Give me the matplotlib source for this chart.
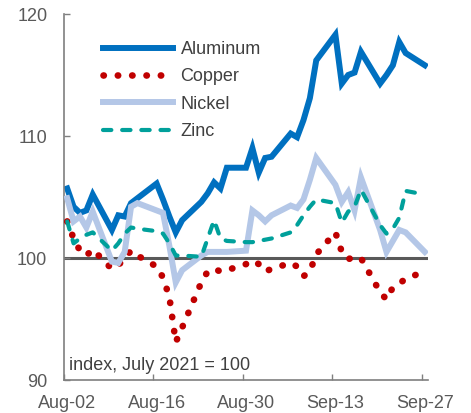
import numpy as np
import pandas as pd
import matplotlib
matplotlib.use("Agg")
import matplotlib.pyplot as plt
import matplotlib.dates as mdates

plt.rcParams['font.family'] = ['Liberation Sans', 'DejaVu Sans']

# business days, index July 2021 = 100
dates = pd.bdate_range("2021-08-02", "2021-09-27")

aluminum = [105.7, 104.2, 103.7, 103.9, 105.2, 102.3, 103.5, 103.4, 104.5, 104.9,
            106.1, 104.8, 103.4, 102.1, 103.1, 104.6, 105.3, 106.2, 105.7, 107.4,
            107.4, 109.0,
            107.0, 108.2, 108.3, 110.2, 109.9, 111.3, 113.1, 116.2, 118.3, 114.3,
            115.0, 115.2, 116.9, 114.3, 115.0, 115.8, 117.7, 116.8, 115.8]
copper = [103.0, 101.6, 100.6, 100.2, 100.7, 99.1, 99.4, 100.0, 100.6, 100.2,
          99.3, 98.4, 96.8, 93.1, 94.3, 98.0, 98.9, 99.1, 98.9, 99.0,
          99.5, 99.8,
          99.5, 98.9, 99.1, 99.6, 99.3, 98.5, 98.9, 100.3, 102.1, 100.5,
          99.9, 100.1, 100.0, 97.2, 96.6, 97.6, 97.9, 98.3, 98.9]
nickel = [104.9, 103.0, 103.4, 102.5, 103.8, 99.7, 99.6, 100.5, 104.2, 104.5,
          103.9, 103.7, 101.0, 98.0, 99.0, 100.2, 100.5, 100.5, 100.5, 100.5,
          100.6, 103.9,
          103.5, 103.0, 103.5, 104.3, 104.1, 104.8, 106.4, 108.2, 106.0, 104.6,
          105.4, 103.9, 106.6, 102.3, 100.5, 101.4, 102.3, 102.1, 100.5]
zinc = [103.0, 101.2, 101.6, 101.9, 102.1, 100.6, 101.2, 102.0, 102.5, 102.4,
        102.2, 102.0, 101.2, 100.2, 100.2, 100.1, 101.6, 103.1, 101.6, 101.4,
        101.3, 101.3,
        101.4, 101.5, 101.6, 102.1, 102.7, 103.5, 104.2, 104.8, 104.5, 102.9,
        103.8, 104.2, 105.6, 102.7, 102.0, 102.4, 103.3, 105.5, 105.2]

tick_dates = ["2021-08-02", "2021-08-16", "2021-08-30", "2021-09-13", "2021-09-27"]

fig = plt.figure(figsize=(4.71, 4.13), dpi=100)
ax = fig.add_axes([0.1359, 0.0799, 0.7728, 0.8862])

# points sit in the middle of each day slot (Excel date axis)
x = dates + pd.Timedelta(hours=12)

ax.axhline(100, color='#595959', lw=2.2, zorder=1.5)
ax.plot(x, aluminum, color='#0070c0', lw=4.3, label='Aluminum',
        solid_joinstyle='miter', zorder=2)
ax.plot(x, copper, color='#c00000', lw=4.8, linestyle=(0, (0.05, 2.1)),
        dash_capstyle='round', label='Copper', zorder=3)
ax.plot(x, nickel, color='#b4c7e7', lw=4.3, label='Nickel',
        solid_joinstyle='miter', zorder=4)
ax.plot(x, zinc, color='#00a09b', lw=3.0, linestyle=(0, (2.0, 2.6)),
        dash_capstyle='round', label='Zinc', zorder=5)

ax.set_ylim(90, 120)
ax.set_yticks([90, 100, 110, 120])
ax.set_xlim(pd.Timestamp("2021-08-02"), pd.Timestamp("2021-09-28"))

tick_pos = [mdates.date2num(pd.Timestamp(d)) for d in tick_dates]
ax.set_xticks(tick_pos)
ax.set_xticklabels([])
ax.set_xticks([p + 0.5 for p in tick_pos], minor=True)
ax.set_xticklabels([pd.Timestamp(d).strftime('%b-%d') for d in tick_dates], minor=True)

ax.tick_params(axis='x', which='major', direction='in', length=4.5, width=1, color='#7f7f7f')
ax.tick_params(axis='x', which='minor', length=0, pad=10.5, labelsize=13, labelcolor='#595959')
ax.tick_params(axis='y', direction='in', length=4.5, width=1, color='#7f7f7f',
               pad=12, labelsize=13, labelcolor='#595959')

for s in ['top', 'right']:
    ax.spines[s].set_visible(False)
for s in ['left', 'bottom']:
    ax.spines[s].set_color('#7f7f7f')
    ax.spines[s].set_linewidth(1.2)

ax.text(0.014, 0.027, 'index, July 2021 = 100', transform=ax.transAxes,
        fontsize=13, color='#404040', va='baseline', ha='left')

leg = ax.legend(loc='upper left', bbox_to_anchor=(0.107, 0.926), frameon=False,
                fontsize=13, handlelength=3.9, handletextpad=0.4,
                labelspacing=0.57, borderpad=0, borderaxespad=0)
for t in leg.get_texts():
    t.set_color('#404040')

fig.savefig('out.png', dpi=100)
